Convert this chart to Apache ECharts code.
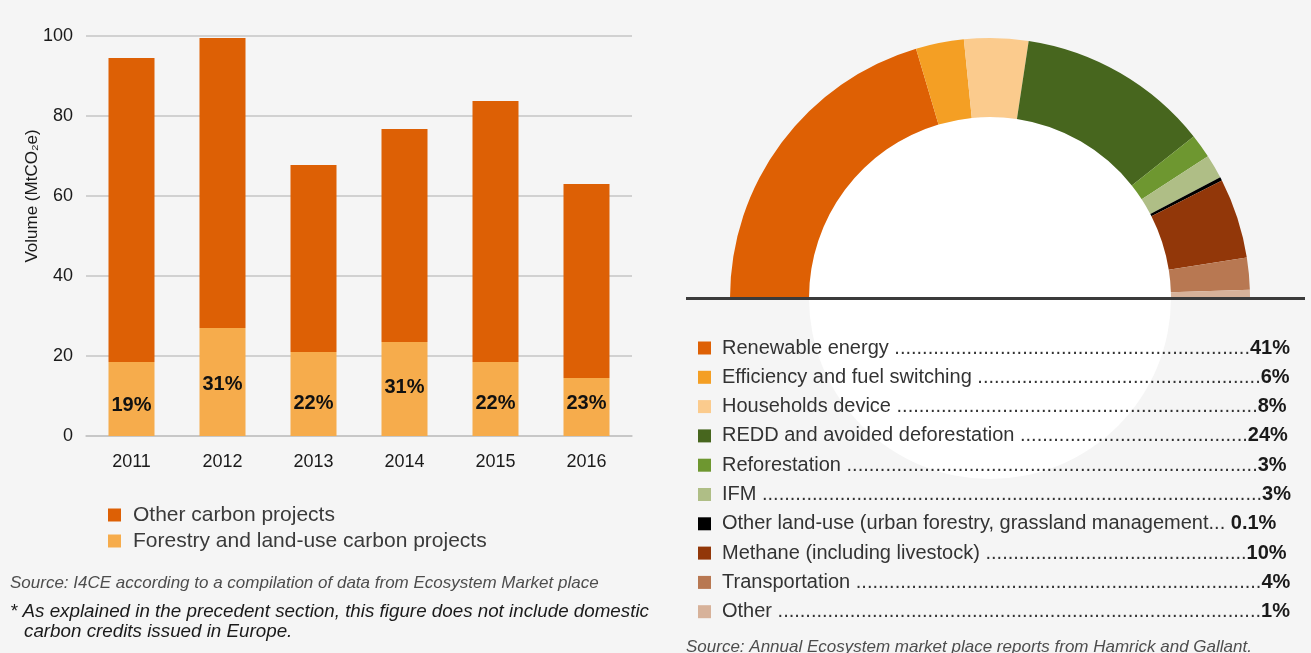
<!DOCTYPE html>
<html><head><meta charset="utf-8">
<script src="https://cdn.jsdelivr.net/npm/echarts@6/dist/echarts.min.js"></script>
<style>html,body{margin:0;padding:0;background:#f5f5f5;}#c{width:1311px;height:653px;}</style>
</head><body><div id="c"></div>
<script>
// ---- data ----
const years = ['2011', '2012', '2013', '2014', '2015', '2016'];
const forestryVolume = [18.5, 27, 21, 23.5, 18.5, 14.5];
const otherVolume = [76, 72.5, 46.75, 53.25, 65.25, 48.5];
const forestryShare = ['19%', '31%', '22%', '31%', '22%', '23%'];
const barSeriesNames = ['Other carbon projects', 'Forestry and land-use carbon projects'];
const yAxisTitle = 'Volume (MtCO₂e)';

const projectTypes = ['Renewable energy', 'Efficiency and fuel switching', 'Households device',
  'REDD and avoided deforestation', 'Reforestation', 'IFM',
  'Other land-use (urban forestry, grassland management...', 'Methane (including livestock)',
  'Transportation', 'Other'];
const projectShares = [41, 6, 8, 24, 3, 3, 0.1, 10, 4, 1];
const projectShareLabels = ['41%', '6%', '8%', '24%', '3%', '3%', '0.1%', '10%', '4%', '1%'];

// ---- styles ----
const barColors = ['#DD6005', '#F6AC4C'];
const pieColors = ['#DE6004', '#F49F24', '#FBCB8D', '#47661E', '#6E9730', '#AFBE86', '#000000', '#923709', '#B87852', '#D7B29A'];
const labelRaise = [21, 42, 23, 39, 23, 23];
const FONT = '"Liberation Sans", Arial, Helvetica, sans-serif';
const LEG_FS = 20;

const ctx = document.createElement('canvas').getContext('2d');
const rowW = 569;
function leader(name, pct) {
  if (/\.\.\.$/.test(name)) return name + ' ';
  ctx.font = 'bold ' + LEG_FS + 'px "Liberation Sans"';
  const pw = ctx.measureText(pct).width;
  ctx.font = LEG_FS + 'px "Liberation Sans"';
  const base = name + ' ';
  const w = ctx.measureText(base).width;
  const dw = ctx.measureText('.').width;
  const n = Math.max(0, Math.floor((rowW - pw - w) / dw));
  return base + '.'.repeat(n);
}

const chart = echarts.init(document.getElementById('c'), null, {renderer: 'canvas'});
const option = {
  backgroundColor: '#f5f5f5',
  textStyle: {fontFamily: FONT},
  animation: false,
  grid: {left: 86, top: 36, width: 546, bottom: 217, containLabel: false},
  xAxis: {
    type: 'category', data: years,
    axisLine: {lineStyle: {color: '#c4c4c4', width: 1.5}},
    axisTick: {show: false},
    axisLabel: {color: '#1a1a1a', fontSize: 18, margin: 17, fontFamily: FONT}
  },
  yAxis: {
    type: 'value', min: 0, max: 100, interval: 20,
    axisLine: {show: false}, axisTick: {show: false},
    axisLabel: {color: '#1a1a1a', fontSize: 18, margin: 13, fontFamily: FONT},
    splitLine: {lineStyle: {color: '#c4c4c4', width: 1.5}}
  },
  legend: [{
    data: barSeriesNames,
    orient: 'vertical', left: 108, top: 504, itemGap: 4, padding: 0,
    itemWidth: 13, itemHeight: 13, icon: 'rect', selectedMode: false,
    textStyle: {fontSize: 21, color: '#3a3a3a', lineHeight: 22, padding: [0, 0, 0, 7], fontFamily: FONT}
  }, {
    data: projectTypes,
    orient: 'vertical', left: 698, top: 337, itemGap: 7.3, padding: 0,
    itemWidth: 13, itemHeight: 13, icon: 'rect', selectedMode: false,
    formatter: function (name) {
      const i = projectTypes.indexOf(name);
      return '{n|' + leader(name, projectShareLabels[i]) + '}{p|' + projectShareLabels[i] + '}';
    },
    textStyle: {
      fontSize: LEG_FS, color: '#333', lineHeight: 22, padding: [0, 0, 0, 6], fontFamily: FONT,
      rich: {
        n: {fontSize: LEG_FS, color: '#333', fontFamily: FONT},
        p: {fontSize: LEG_FS, color: '#1a1a1a', fontWeight: 'bold', fontFamily: FONT}
      }
    }
  }],
  series: [{
    name: barSeriesNames[1], type: 'bar', stack: 'v', barWidth: 46,
    itemStyle: {color: barColors[1]},
    data: forestryVolume.map((v, i) => ({
      value: v,
      label: {show: true, position: 'insideBottom', distance: labelRaise[i], formatter: forestryShare[i],
        color: '#111', fontSize: 20, fontWeight: 'bold', fontFamily: FONT}
    }))
  }, {
    name: barSeriesNames[0], type: 'bar', stack: 'v', barWidth: 46,
    itemStyle: {color: barColors[0]},
    data: otherVolume
  }, {
    name: 'Project type', type: 'pie', center: [990, 298], radius: [181, 260],
    startAngle: 180, endAngle: 0, clockwise: true, minAngle: 0.8,
    silent: true, z: 3,
    label: {show: false}, labelLine: {show: false},
    itemStyle: {borderWidth: 0},
    data: projectTypes.map((n, i) => ({name: n, value: projectShares[i], itemStyle: {color: pieColors[i]}}))
  }],
  graphic: [
    {type: 'circle', z: -10, shape: {cx: 990, cy: 298, r: 181}, style: {fill: '#ffffff'}, silent: true},
    {type: 'line', z: 100, shape: {x1: 686, y1: 298.5, x2: 1305, y2: 298.5}, style: {stroke: '#3b3b3b', lineWidth: 3}, silent: true},
    {type: 'text', z: 100, x: 32, y: 196, rotation: Math.PI / 2, style: {text: yAxisTitle,
      font: '17px ' + FONT, fill: '#1a1a1a', textAlign: 'center', align: 'center', textVerticalAlign: 'middle', verticalAlign: 'middle'}},
    {type: 'text', z: 100, x: 10, y: 583, style: {text: 'Source: I4CE according to a compilation of data from Ecosystem Market place',
      font: 'italic 17px ' + FONT, fill: '#4d4d4d', textVerticalAlign: 'middle', verticalAlign: 'middle'}},
    {type: 'text', z: 100, x: 10, y: 612, style: {text: '* As explained in the precedent section, this figure does not include domestic',
      font: 'italic 18.8px ' + FONT, fill: '#1a1a1a', textVerticalAlign: 'middle', verticalAlign: 'middle'}},
    {type: 'text', z: 100, x: 24, y: 632, style: {text: 'carbon credits issued in Europe.',
      font: 'italic 18.8px ' + FONT, fill: '#1a1a1a', textVerticalAlign: 'middle', verticalAlign: 'middle'}},
    {type: 'text', z: 100, x: 686, y: 647, style: {text: 'Source: Annual Ecosystem market place reports from Hamrick and Gallant.',
      font: 'italic 17px ' + FONT, fill: '#4d4d4d', textVerticalAlign: 'middle', verticalAlign: 'middle'}}
  ]
};
chart.setOption(option);
</script>
</body></html>
